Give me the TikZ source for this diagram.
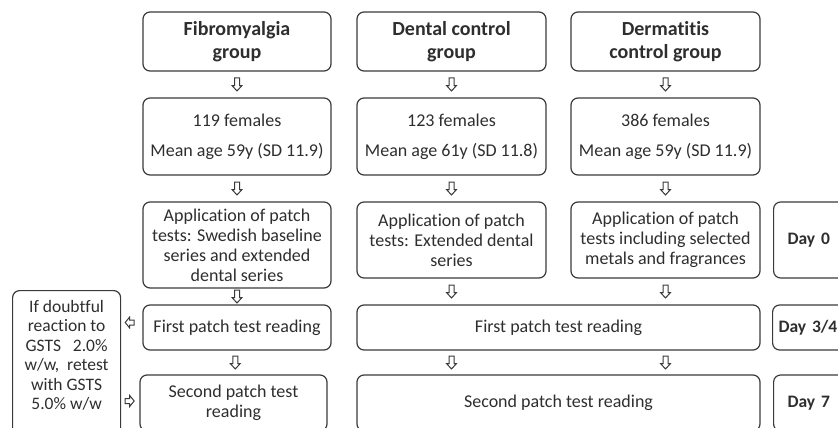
\documentclass[tikz,border=0pt]{standalone}
\usepackage{fontspec}
\setmainfont[Ligatures=NoCommon]{Carlito}
\usetikzlibrary{calc}
\definecolor{edge}{HTML}{3A3A3A}
\definecolor{ink}{HTML}{2E2E2E}
% separate t and i so that Carlito does not join them
\newcommand{\tisep}{t\kern0pt i}
\begin{document}
\begin{tikzpicture}[x=1pt,y=-1pt,
  box/.style={draw=edge, line width=1.2pt, rounded corners=7pt, align=center,
    inner sep=0pt, text=ink, font=\fontsize{18}{20}\selectfont},
  head/.style={box, font=\bfseries\fontsize{20}{23}\selectfont},
  daybox/.style={box, anchor=west, align=left, inner xsep=14pt, text width=60pt,
    font=\bfseries\fontsize{17.5}{20}\selectfont},
  note/.style={text=ink, align=center, inner sep=0pt, font=\fontsize{17.5}{19.5}\selectfont},
  flow/.pic={\draw[edge, line width=1pt, fill=white, line join=miter]
    (-2.5,-6.5) -- (2.5,-6.5) -- (2.5,1) -- (5,1) -- (0,6.5) -- (-5,1) -- (-2.5,1) -- cycle;},
  sideflow/.pic={\draw[edge, line width=1pt, fill=white, line join=miter]
    (-4.5,-2.5) -- (0,-2.5) -- (0,-5.5) -- (4.5,0) -- (0,5.5) -- (0,2.5) -- (-4.5,2.5) -- cycle;}
]
\useasboundingbox (0,0) rectangle (838,428);
\clip (0,0) rectangle (838,428);

% group headings
\node[head, minimum width=188pt, minimum height=59pt] (fibA) at (237,41.5) {Fibromyalgia\\group};
\node[head, minimum width=189pt, minimum height=59pt] (denA) at (451.5,41.5) {Dental control\\group};
\node[head, minimum width=189pt, minimum height=59pt] (derA) at (665.5,41.5) {Derma\tisep\tisep s\\control group};

% participants
\node[box, minimum width=188pt, minimum height=77pt] (fibB) at (237,136.5) {119 females\\[10pt]Mean age 59y (SD 11.9)};
\node[box, minimum width=189pt, minimum height=77pt] (denB) at (451.5,136.5) {123 females\\[10pt]Mean age 61y (SD 11.8)};
\node[box, minimum width=189pt, minimum height=77pt] (derB) at (665.5,136.5) {386 females\\[10pt]Mean age 59y (SD 11.9)};

% patch test application
\node[box, minimum width=188pt, minimum height=86pt] (fibC) at (237,245) {Applica\tisep on of patch\\tests: Swedish baseline\\series and extended\\dental series};
\node[box, minimum width=189pt, minimum height=76pt] (denC) at (451.5,240) {Applica\tisep on of patch\\tests: Extended dental\\series};
\node[box, minimum width=189pt, minimum height=76pt] (derC) at (665.5,240) {Applica\tisep on of patch\\tests including selected\\metals and fragrances};
\node[daybox, minimum height=76pt] (day0) at (773,240) {Day 0};

% first reading
\node[box, minimum width=188pt, minimum height=45pt] (fibD) at (237,327.5) {First patch test reading};
\node[box, minimum width=403pt, minimum height=45pt] (ctlD) at (558.5,327.5) {First patch test reading};
\node[daybox, inner xsep=6pt, text width=76pt, minimum height=45pt] (day34) at (772,327.5) {Day 3/4};

% second reading
\node[box, minimum width=187pt, minimum height=56pt] (fibE) at (233.5,403) {Second patch test\\reading};
\node[box, minimum width=403pt, minimum height=56pt] (ctlE) at (558.5,403) {Second patch test reading};
\node[daybox, minimum height=56pt] (day7) at (773,403) {Day 7};

% retest note
\node[box, minimum width=108pt, minimum height=150pt, anchor=north west] (retest) at (12,290) {};
\node[note, anchor=north] (retesttext) at ([yshift=-10pt]retest.north)
  {If doubtful\\reaction to\\GSTS~~~2.0\%\\w/w,~ retest\\with GSTS\\5.0\% w/w};

% flow arrows between the rows
\foreach \a/\b in {fibA/fibB, denA/denB, derA/derB, fibB/fibC, denB/denC, derB/derC, fibC/fibD, fibD/fibE}
  \pic at ($(\a.south)!0.5!(\b.north)$) {flow};
\pic at ($(denC.south)!0.5!(denC.south |- ctlD.north)$) {flow};
\pic at ($(derC.south)!0.5!(derC.south |- ctlD.north)$) {flow};
\pic at ($(denC.south |- ctlD.south)!0.5!(denC.south |- ctlE.north)$) {flow};
\pic at ($(derC.south |- ctlD.south)!0.5!(derC.south |- ctlE.north)$) {flow};

% side arrows to and from the retest note
\coordinate (gapx) at ($(retest.east)!0.4!(fibD.west)$);
\pic[xscale=-1] at ([yshift=5pt]gapx |- fibD.center) {sideflow};
\pic at ([yshift=2pt]gapx |- fibE.center) {sideflow};
\end{tikzpicture}
\end{document}
